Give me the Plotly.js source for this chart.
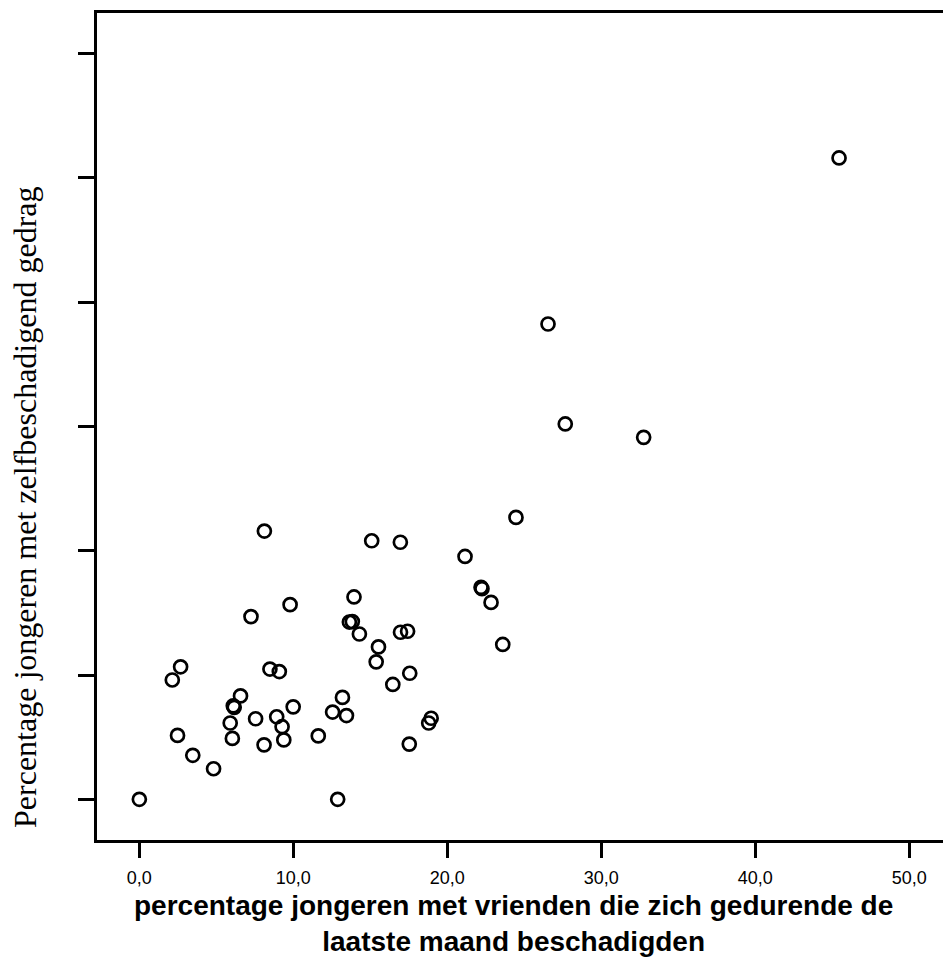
<!DOCTYPE html>
<html>
<head>
<meta charset="utf-8">
<script src="https://cdn.plot.ly/plotly-3.0.1.min.js"></script>
<style>html,body{margin:0;padding:0;background:#fff;}#chart{width:943px;height:958px;}</style>
</head>
<body>
<div id="chart"></div>
<script>
// percentage jongeren met vrienden die zich beschadigden
var vriendenPct = [
  8.12, 15.09, 16.95, 13.94, 9.79, 7.25, 13.64, 13.83, 14.29, 16.96,
  17.42, 15.53, 15.38, 17.56, 16.46, 2.68, 2.14, 8.48, 9.09, 6.57,
  6.10, 6.16, 9.99, 13.19, 12.55, 13.45, 8.92, 7.55, 9.27, 5.90,
  6.04, 9.38, 8.10, 11.62, 2.48, 3.47, 4.82, 0.00, 12.88, 18.95,
  18.79, 17.53, 24.46, 21.15, 22.19, 22.25, 22.84, 23.60, 26.54, 27.66,
  32.75, 45.44
];
// percentage jongeren met zelfbeschadigend gedrag
var zelfPct = [
  10.79, 10.40, 10.34, 8.14, 7.83, 7.35, 7.13, 7.15, 6.65, 6.72,
  6.76, 6.13, 5.53, 5.07, 4.62, 5.33, 4.80, 5.24, 5.14, 4.16,
  3.76, 3.70, 3.72, 4.10, 3.51, 3.37, 3.32, 3.24, 2.92, 3.07,
  2.45, 2.39, 2.19, 2.55, 2.57, 1.77, 1.23, 0.00, 0.00, 3.26,
  3.07, 2.22, 11.34, 9.77, 8.53, 8.47, 7.92, 6.23, 19.12, 15.10,
  14.56, 25.80
];
var xTicks = [0, 10, 20, 30, 40, 50];
var yTicks = [0, 5, 10, 15, 20, 25, 30];
var xTitle = "percentage jongeren met vrienden die zich gedurende de<br>laatste maand beschadigden";
var yTitle = "Percentage jongeren met zelfbeschadigend gedrag";

var trace = {
  x: vriendenPct,
  y: zelfPct,
  type: 'scatter',
  mode: 'markers',
  marker: {symbol: 'circle-open', size: 13, color: '#000', line: {width: 2.7, color: '#000'}},
  hoverinfo: 'x+y'
};

var layout = {
  width: 943, height: 958,
  margin: {l: 97, r: 0, t: 13, b: 118, pad: 0},
  paper_bgcolor: '#fff', plot_bgcolor: '#fff',
  separators: ',.',
  showlegend: false,
  font: {family: 'Liberation Sans, Arial, sans-serif', color: '#000'},
  xaxis: {
    range: [-2.75, 52.19],
    tickvals: xTicks, tickformat: '.1f',
    ticks: 'outside', ticklen: 15, tickwidth: 3, tickcolor: '#000',
    ticklabelstandoff: 4,
    showline: true, linewidth: 3, linecolor: '#000', mirror: true,
    showgrid: false, zeroline: false,
    tickfont: {size: 18, family: 'Liberation Sans, Arial, sans-serif', color: '#000'}
  },
  yaxis: {
    range: [-1.637, 31.63],
    tickvals: yTicks, showticklabels: false,
    ticks: 'outside', ticklen: 16, tickwidth: 3, tickcolor: '#000',
    showline: true, linewidth: 3, linecolor: '#000', mirror: false,
    showgrid: false, zeroline: false
  },
  annotations: [
    {text: yTitle, xref: 'paper', yref: 'paper', x: -0.0851, y: 0.4015,
     xanchor: 'center', yanchor: 'middle', textangle: -90, showarrow: false,
     font: {family: 'Liberation Serif, Times New Roman, serif', size: 32, color: '#000'}},
    {text: xTitle, xref: 'paper', yref: 'paper', x: 0.4929, y: -0.1010,
     xanchor: 'center', yanchor: 'middle', showarrow: false, align: 'center',
     font: {family: 'Liberation Sans, Arial, sans-serif', size: 28, color: '#000', weight: 'bold'}}
  ]
};

Plotly.newPlot('chart', [trace], layout, {staticPlot: true, displayModeBar: false});
</script>
</body>
</html>
